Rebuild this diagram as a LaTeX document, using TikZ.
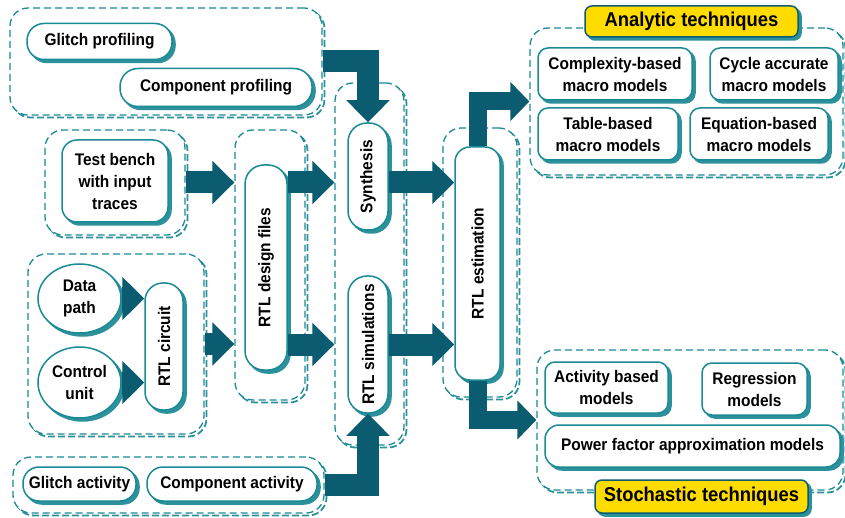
\documentclass[tikz,border=0pt]{standalone}
\usepackage{fontspec}
\setmainfont{Liberation Sans}[FakeStretch=0.92]
\usepackage{graphicx}
\usetikzlibrary{arrows.meta,shapes.geometric}

\definecolor{rim}{RGB}{26,138,150}
\definecolor{rimshade}{RGB}{45,145,156}
\definecolor{flow}{RGB}{11,92,112}
\definecolor{tagyellow}{RGB}{255,220,0}

\tikzset{
  base/.style={font=\fontsize{16.8}{22}\selectfont\bfseries, align=center, inner sep=2pt},
  shade box/.style={preaction={fill=rimshade, draw=rimshade, line width=1.5pt,
      transform canvas={shift={(3pt,-3pt)}}}},
  box/.style={base, shade box, draw=rim, fill=white, line width=1.5pt, rounded corners=#1},
  box/.default=10pt,
  group/.style={draw=rim, fill=white, line width=1.3pt, dash pattern=on 7pt off 4pt, rounded corners=18pt,
      preaction={draw=rimshade, line width=1.8pt, dash pattern=on 7pt off 3pt,
      transform canvas={shift={(2.5pt,-2.5pt)}}}},
  oval/.style={base, shade box, ellipse, draw=rim, fill=white, line width=1.5pt, inner sep=0pt},
  flowarrow/.style={draw=flow, line width=22pt, line join=miter, -{Triangle[length=22pt,width=42pt]}},
  thinflow/.style={draw=flow, line width=18pt, line join=miter, -{Triangle[length=19pt,width=38pt]}},
  tagbox/.style={base, font=\fontsize{20}{24}\selectfont\bfseries, shade box, draw=flow,
      fill=tagyellow, line width=1.5pt, rounded corners=7pt},
}

\begin{document}
\begin{tikzpicture}[x=1pt,y=-1pt]
\useasboundingbox (0,0) rectangle (845,518);
\fill[white] (0,0) rectangle (845,518);

% ---- dashed groups ----
\node[group, minimum width=312pt, minimum height=107pt] (tg)   at (166,61.5)   {};
\node[group, minimum width=140pt, minimum height=105pt] (tbg)  at (115,182.5)  {};
\node[group, minimum width=70pt,  minimum height=270pt] (rdg)  at (270,265)    {};
\node[group, minimum width=69pt,  minimum height=362pt] (srg)  at (369.5,264)  {};
\node[group, minimum width=176pt, minimum height=180pt] (dpg)  at (116,344)    {};
\node[group, minimum width=311pt, minimum height=56pt]  (bg)   at (168.5,485)  {};
\node[group, minimum width=74pt,  minimum height=269pt] (estg) at (480,262.5)  {};
\node[group, minimum width=313pt, minimum height=147pt] (ang)  at (686.5,101.5){};
\node[group, minimum width=306pt, minimum height=140pt] (stg)  at (690,420)    {};

% ---- profiling inputs ----
\node[box=17pt, minimum width=145pt, minimum height=36pt] (gp) at (99.5,41.5) {Glitch profiling};
\node[box=18pt, minimum width=192pt, minimum height=38pt] (cp) at (216,87.5) {Component profiling};

% ---- test bench ----
\node[box=15pt, minimum width=106pt, minimum height=82pt] (tb) at (115,181) {Test bench\\with input\\traces};

% ---- RTL circuit ----
\node[oval, minimum width=83pt, minimum height=69pt] (dp) at (79.5,298.5) {Data\\path};
\node[oval, minimum width=83pt, minimum height=71pt] (cu) at (79.5,382.5) {Control\\unit};
\node[box=18pt, minimum width=38pt, minimum height=127pt] (rc) at (164,346.5) {\rotatebox{90}{RTL circuit}};

% ---- design files, synthesis, simulation ----
\node[box=19pt, minimum width=42pt, minimum height=205pt] (rd)   at (266,267.5) {\rotatebox{90}{RTL design files}};
\node[box=19pt, minimum width=40pt, minimum height=107pt] (syn)  at (368,176.5) {\rotatebox{90}{Synthesis}};
\node[box=19pt, minimum width=40pt, minimum height=137pt] (rsim) at (368,344.5) {\rotatebox{90}{RTL simulations}};

% ---- activity inputs ----
\node[box=16pt, minimum width=113pt, minimum height=34pt] (ga) at (79.5,484) {Glitch activity};
\node[box=16pt, minimum width=170pt, minimum height=34pt] (ca) at (232,484) {Component activity};

% ---- estimation ----
\node[box=15pt, minimum width=45pt, minimum height=233pt] (est) at (477.5,263.5) {\rotatebox{90}{RTL estimation}};

% ---- analytic techniques ----
\node[box, minimum width=154pt, minimum height=52pt] (cb)  at (615,74)  {Complexity-based\\macro models};
\node[box, minimum width=128pt, minimum height=52pt] (cy)  at (774,74)  {Cycle accurate\\macro models};
\node[box, minimum width=140pt, minimum height=52pt] (tab) at (608,134) {Table-based\\macro models};
\node[box, minimum width=138pt, minimum height=52pt] (eq)  at (759,134) {Equation-based\\macro models};
\node[tagbox, minimum width=213pt, minimum height=31pt] (at) at (691.5,21.5) {Analytic techniques};

% ---- stochastic techniques ----
\node[box, minimum width=123pt, minimum height=51pt] (ab)  at (606.5,387.5) {Activity based\\models};
\node[box, minimum width=105pt, minimum height=52pt] (reg) at (754.5,389)   {Regression\\models};
\node[box=14pt, minimum width=295pt, minimum height=42pt] (pf) at (692.5,446) {Power factor approximation models};
\node[tagbox, minimum width=213pt, minimum height=33pt] (st) at (701.5,496.5) {Stochastic techniques};

% ---- flow arrows ----
\draw[flowarrow] (tg.east) -| (syn.north);
\draw[flowarrow] (bg.east) -| (rsim.south);
\draw[flowarrow] (tbg.east) -- (tbg.east -| rdg.west);
\draw[flowarrow] (dp.east) -- (dp.east -| rc.west);
\draw[flowarrow] (cu.east) -- (cu.east -| rc.west);
\draw[flowarrow] (dpg.east) -- (dpg.east -| rdg.west);
\draw[flowarrow] (rd.east |- tbg.east) -- (srg.west |- tbg.east);
\draw[flowarrow] (rd.east |- rsim.east) -- (srg.west |- rsim.east);
\draw[flowarrow] (syn.east |- tbg.east) -- (est.west |- tbg.east);
\draw[flowarrow] (rsim.east) -- (rsim.east -| est.west);
\draw[thinflow] (est.north) |- (ang.west);
\draw[thinflow] (est.south) |- (stg.west);
\end{tikzpicture}
\end{document}
